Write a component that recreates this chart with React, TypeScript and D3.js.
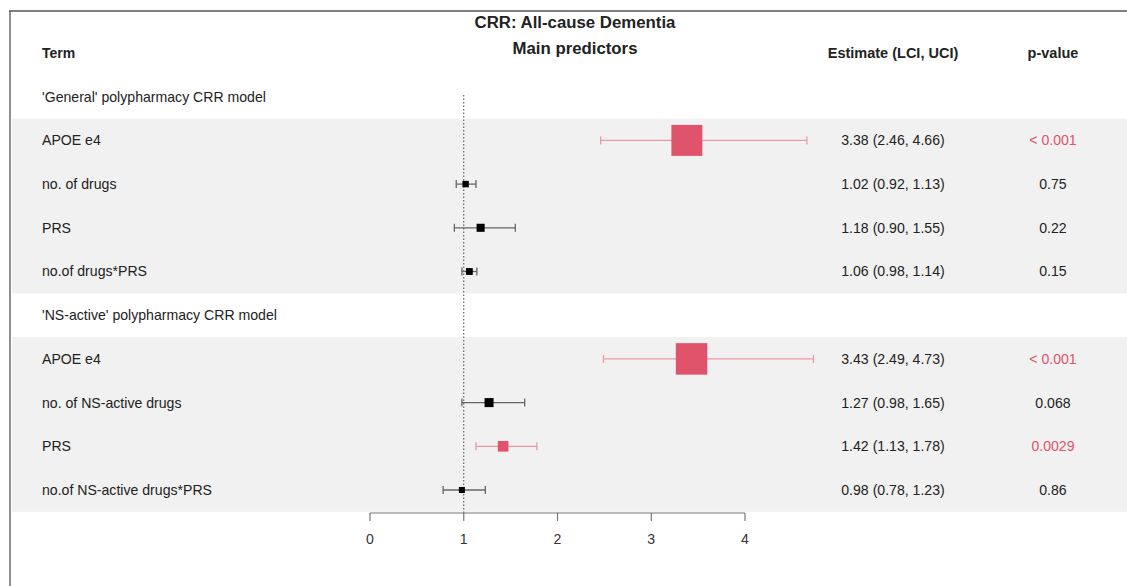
import React from "react";
import * as d3 from "d3";

const groupTitles = ["'General' polypharmacy CRR model", "'NS-active' polypharmacy CRR model"];
const terms1 = ["APOE e4", "no. of drugs", "PRS", "no.of drugs*PRS"];
const terms2 = ["APOE e4", "no. of NS-active drugs", "PRS", "no.of NS-active drugs*PRS"];
const est1 = [3.38, 1.02, 1.18, 1.06];
const lci1 = [2.46, 0.92, 0.9, 0.98];
const uci1 = [4.66, 1.13, 1.55, 1.14];
const p1 = ["< 0.001", "0.75", "0.22", "0.15"];
const sig1 = [true, false, false, false];
const est2 = [3.43, 1.27, 1.42, 0.98];
const lci2 = [2.49, 0.98, 1.13, 0.78];
const uci2 = [4.73, 1.65, 1.78, 1.23];
const p2 = ["< 0.001", "0.068", "0.0029", "0.86"];
const sig2 = [true, false, true, false];
const xTicks = [0, 1, 2, 3, 4];

type Row = { kind: "group" | "term"; label: string; est?: number; lci?: number; uci?: number; p?: string; sig?: boolean };

const rows: Row[] = [];
[[terms1, est1, lci1, uci1, p1, sig1], [terms2, est2, lci2, uci2, p2, sig2]].forEach((g: any, gi) => {
  rows.push({ kind: "group", label: groupTitles[gi] });
  g[0].forEach((t: string, i: number) =>
    rows.push({ kind: "term", label: t, est: g[1][i], lci: g[2][i], uci: g[3][i], p: g[4][i], sig: g[5][i] })
  );
});

const W = 1127;
const H = 586;
const RED = "#DF536B";
const TXT = "#222";
const FONT = "'Liberation Sans', Arial, sans-serif";

export default function App() {
  const y = d3.scalePoint<number>().domain(d3.range(rows.length + 1)).range([53, 490]);
  const step = y.step();
  const x = d3.scaleLinear().domain([0, 4]).range([370, 745]);
  const allEst = rows.filter((r) => r.kind === "term").map((r) => r.est as number);
  const box = d3.scaleLinear().domain([d3.min(allEst)!, d3.max(allEst)!]).range([6, 31.5]);
  const axisY = 513;
  const estX = 893;
  const pX = 1053;
  const labelX = 42;
  const fs = 14.1;

  return (
    <svg width={W} height={H} style={{ position: "absolute", left: 0, top: 0, background: "#fff" }} fontFamily={FONT}>
      <rect x={0} y={0} width={W} height={H} fill="#fff" />
      {[1, 6].map((gi) => (
        <rect key={gi} x={12} y={y(gi + 1)! - step / 2} width={W - 12} height={step * 4} fill="#F1F1F1" />
      ))}
      <line x1={9} x2={W} y1={11} y2={11} stroke="#555" strokeWidth={1.3} />
      <line x1={10} x2={10} y1={11} y2={H} stroke="#555" strokeWidth={1.3} />
      <text x={575} y={28} textAnchor="middle" fontWeight="bold" fontSize={16.8} fill={TXT}>CRR: All-cause Dementia</text>
      <text x={575} y={54} textAnchor="middle" fontWeight="bold" fontSize={16.8} fill={TXT}>Main predictors</text>
      <text x={labelX} y={y(0)} dy="0.35em" fontWeight="bold" fontSize={14} fill={TXT}>Term</text>
      <text x={estX} y={y(0)} dy="0.35em" textAnchor="middle" fontWeight="bold" fontSize={14.5} fill={TXT}>Estimate (LCI, UCI)</text>
      <text x={pX} y={y(0)} dy="0.35em" textAnchor="middle" fontWeight="bold" fontSize={14.5} fill={TXT}>p-value</text>
      <line x1={x(1)} x2={x(1)} y1={95} y2={axisY} stroke="#444" strokeWidth={1} strokeDasharray="1.5,2" />
      {rows.map((r, i) => {
        const cy = y(i + 1)!;
        if (r.kind === "group") {
          return (
            <text key={i} x={labelX} y={cy} dy="0.35em" fontSize={fs} fill={TXT}>{r.label}</text>
          );
        }
        const col = r.sig ? RED : "#000";
        const lineCol = r.sig ? "#EC98A6" : "#666";
        const s = box(r.est as number);
        const fmt = d3.format(".2f");
        return (
          <g key={i}>
            <text x={labelX} y={cy} dy="0.35em" fontSize={fs} fill={TXT}>{r.label}</text>
            <line x1={x(r.lci!)} x2={x(r.uci!)} y1={cy} y2={cy} stroke={lineCol} strokeWidth={1.3} />
            <line x1={x(r.lci!)} x2={x(r.lci!)} y1={cy - 4} y2={cy + 4} stroke={lineCol} strokeWidth={1.3} />
            <line x1={x(r.uci!)} x2={x(r.uci!)} y1={cy - 4} y2={cy + 4} stroke={lineCol} strokeWidth={1.3} />
            <rect x={x(r.est!) - s / 2} y={cy - s / 2} width={s} height={s} fill={col} />
            <text x={estX} y={cy} dy="0.35em" textAnchor="middle" fontSize={fs} fill={TXT}>
              {`${fmt(r.est!)} (${fmt(r.lci!)}, ${fmt(r.uci!)})`}
            </text>
            <text x={pX} y={cy} dy="0.35em" textAnchor="middle" fontSize={fs} fill={r.sig ? RED : TXT}>{r.p}</text>
          </g>
        );
      })}
      <line x1={x(0)} x2={x(4)} y1={axisY} y2={axisY} stroke="#777" strokeWidth={1.2} />
      {xTicks.map((t) => (
        <g key={t}>
          <line x1={x(t)} x2={x(t)} y1={axisY} y2={axisY + 8} stroke="#777" strokeWidth={1.2} />
          <text x={x(t)} y={axisY + 26} dy="0.35em" textAnchor="middle" fontSize={fs} fill="#333">{t}</text>
        </g>
      ))}
    </svg>
  );
}
